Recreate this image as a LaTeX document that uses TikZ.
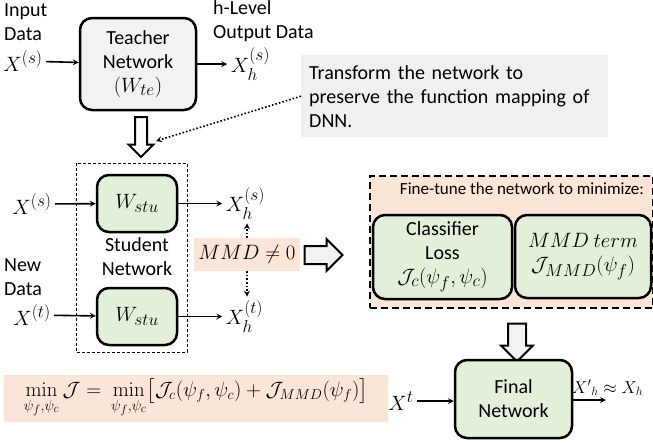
\documentclass[tikz,border=0pt]{standalone}
\usepackage{amsmath}
\usepackage{amssymb}
\usepackage[no-math]{fontspec}
\setmainfont{Carlito}
\usepackage{xcolor}
\usepackage{tikz}
\usetikzlibrary{shapes,arrows,positioning}

\DeclareMathSizes{20}{22}{16}{12}
\DeclareMathSizes{18}{20.74}{14.4}{12}

\definecolor{teachergray}{HTML}{F2F2F2}
\definecolor{notegray}{HTML}{F0F0F0}
\definecolor{stugreen}{HTML}{E2F0D9}
\definecolor{peach}{HTML}{FBE5D6}

\begin{document}
\begin{tikzpicture}[x=1pt, y=-1pt,
    font=\fontsize{20}{24}\selectfont,
    netbox/.style={draw, line width=2.5pt, rounded corners=12pt, align=center, inner sep=0pt},
    txt/.style={align=left, inner sep=0pt},
    arrow/.style={->, >=stealth, line width=1.6pt},
    dotarrow/.style={->, >=stealth, line width=1.6pt, dotted},
    bigarrow/.style={single arrow, draw, line width=2pt, fill=teachergray, inner xsep=0pt, inner ysep=8pt, single arrow head extend=7pt, minimum height=38pt}
]
\useasboundingbox (0,0) rectangle (653,442);

% teacher
\node[txt, anchor=north west] (inlbl) at (4,3) {Input\\Data};
\node (xs0) at (23,61) {$X^{(s)}$};
\node[netbox, fill=teachergray, minimum width=116pt, minimum height=92pt] (teacher) at (138,64) {Teacher\\Network\\$(W_{te})$};
\node[right=30pt of teacher] (xh0) {$X_h^{(s)}$};
\node[txt, anchor=north west] (outlbl) at (213,0) {h-Level\\Output Data};
\draw[arrow] (xs0) -- (teacher);
\draw[arrow] (teacher) -- (xh0);

\node[fill=notegray, anchor=north west, align=left, text width=291pt, inner xsep=8pt, minimum height=82pt] (note) at (301,55) {Transform the network to\\preserve the function mapping of\\DNN.};
\node[bigarrow, fill=white, inner ysep=5pt, single arrow head extend=6.5pt, minimum height=40pt, rotate=-90] (tarrow) at (141,134) {};
\coordinate (tip) at (156,141);
\draw[dotarrow] (note.west) -- (tip);

% student
\draw[dashed, line width=0.8pt, dash pattern=on 3pt off 2pt] (76,163) rectangle (187,352);
\node[netbox, fill=stugreen, minimum width=80pt, minimum height=57pt] (stu1) at (137,203.5) {$W_{stu}$};
\node[netbox, fill=stugreen, minimum width=80pt, minimum height=57pt] (stu2) at (137,316.5) {$W_{stu}$};
\node[txt, align=center] (stulbl) at (137,257) {Student\\Network};
\node (xs1) at (32,204) {$X^{(s)}$};
\node[txt, anchor=north west] (newlbl) at (4,258) {New\\Data};
\node (xt1) at (32,315) {$X^{(t)}$};
\node[right=44pt of stu1] (xh1) {$X_h^{(s)}$};
\node[right=44pt of stu2] (xh2) {$X_h^{(t)}$};
\draw[arrow] (xs1) -- (stu1);
\draw[arrow] (xt1) -- (stu2);
\draw[arrow] (stu1) -- (xh1);
\draw[arrow] (stu2) -- (xh2);

\node[fill=peach, minimum width=106pt, minimum height=33pt] (mmd) at (247,254.5) {$MMD \neq 0$};
\draw[dotarrow] (mmd.north) -- (mmd.north |- xh1.south);
\draw[dotarrow] (mmd.south) -- (mmd.south |- xh2.north);
\node[bigarrow] (marrow) at (319,255) {};

% fine-tuning
\node[draw, fill=peach, line width=1.8pt, dash pattern=on 7pt off 4pt, minimum width=283pt, minimum height=132pt, anchor=north west] (fine) at (369,175) {};
\node[font=\fontsize{17}{20}\selectfont] (finelbl) at (522,189) {Fine-tune the network to minimize:};
\node[netbox, fill=stugreen, minimum width=139pt, minimum height=84pt] (cls) at (442.5,257) {Classifier\\Loss\\$\mathcal{J}_c(\psi_f,\psi_c)$};
\node[netbox, fill=stugreen, minimum width=136pt, minimum height=83pt] (mmdterm) at (583,256.5) {$MMD\ term$\\$\mathcal{J}_{MMD}(\psi_f)$};
\node[bigarrow, rotate=-90] (farrow) at (517,338) {};

% final
\node[netbox, fill=stugreen, minimum width=117pt, minimum height=78pt] (final) at (513.5,399) {Final\\Network};
\node (xt2) at (401,401) {$X^t$};
\coordinate (xout) at (606,400);
\draw[arrow] (xt2) -- (xt2 -| final.west);
\draw[arrow] (final.east |- xout) -- (xout);
\node[anchor=south west, inner sep=1pt, font=\fontsize{17}{20}\selectfont] (xlbl) at (571,397) {${X'}_h \approx X_h$};

\node[fill=peach, font=\fontsize{18}{22}\selectfont, minimum width=384pt, minimum height=47pt] (obj) at (196,398.5) {$\displaystyle\min_{\psi_f,\psi_c}\mathcal{J} = \ \min_{\psi_f,\psi_c}\bigl[\mathcal{J}_c(\psi_f,\psi_c)+\mathcal{J}_{MMD}(\psi_f)\bigr]$};

\end{tikzpicture}
\end{document}
